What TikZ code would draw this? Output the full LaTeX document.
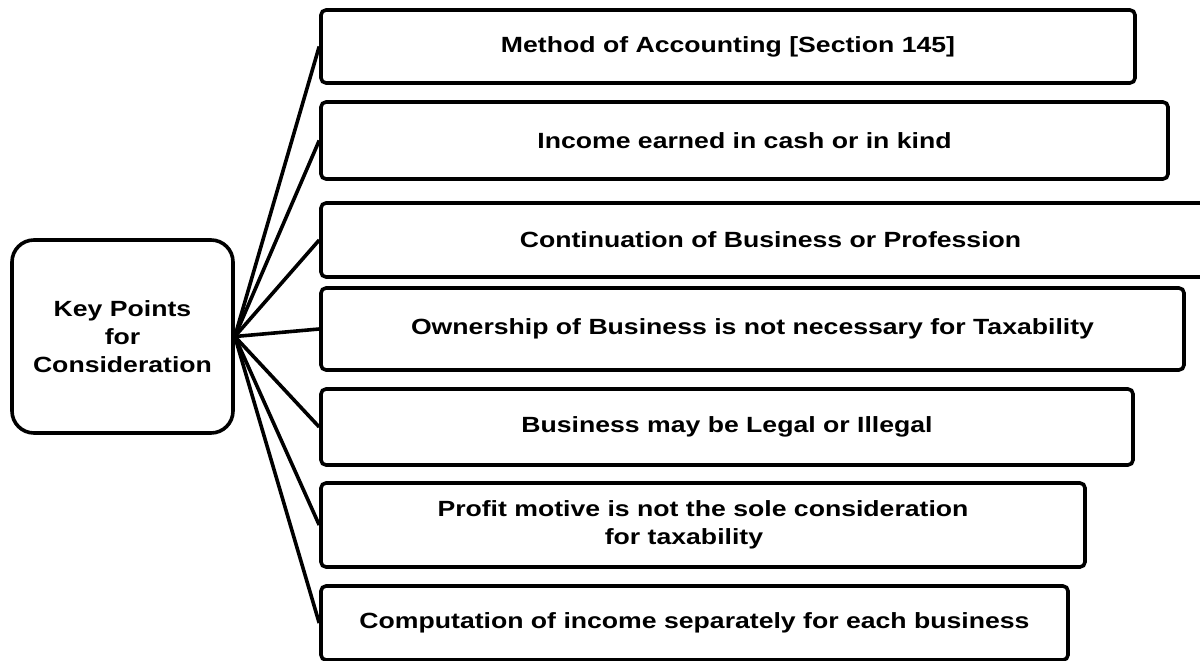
\documentclass[tikz,border=0pt]{standalone}
\usepackage{fontspec}
\setmainfont[FakeStretch=1.21]{Liberation Sans}
\usetikzlibrary{positioning}

\begin{document}
\begin{tikzpicture}[x=1pt, y=-1pt, line width=3.6pt,
		texto/.style={font=\fontsize{22}{28}\selectfont\bfseries, align=center, inner sep=0pt},
		punto/.style={texto, draw, rounded corners=5pt},
		clavebox/.style={texto, draw, rounded corners=22pt}]
	\useasboundingbox (0,0) rectangle (1200,661);
	\clip (0,0) rectangle (1200,661);
	\node[clavebox, minimum width=221, minimum height=193] (clave) at (122.5,336.5) {Key Points\\for\\Consideration};
	\node[punto, minimum width=814, minimum height=73] (b1) at (728,46.5) {Method of Accounting [Section 145]};
	\node[punto, minimum width=847, minimum height=77] (b2) at (744.5,140.5) {Income earned in cash or in kind};
	\node[punto, minimum width=899, minimum height=74] (b3) at (770.5,240) {Continuation of Business or Profession};
	\node[punto, minimum width=863, minimum height=82] (b4) at (752.5,329) {Ownership of Business is not necessary for Taxability};
	\node[punto, minimum width=812, minimum height=76] (b5) at (727,427) {Business may be Legal or Illegal};
	\node[punto, minimum width=764, minimum height=84] (b6) at (703,525) {Profit motive is not the sole consideration\\for taxability\hspace*{38pt}};
	\node[punto, minimum width=747, minimum height=74] (b7) at (694.5,623) {Computation of income separately for each business};
	\foreach \b in {b1,b2,b3,b4,b5,b6,b7}
		\draw (clave.east) -- (\b.west);
\end{tikzpicture}
\end{document}
